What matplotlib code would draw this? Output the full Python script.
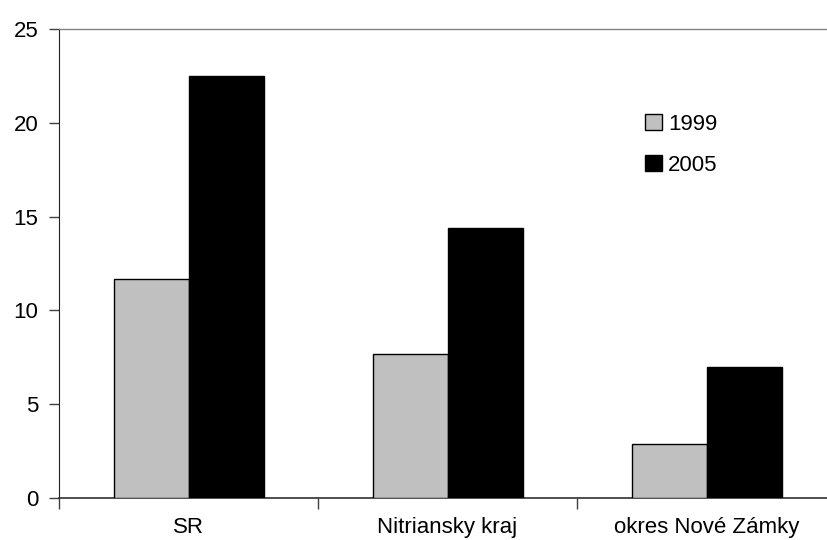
import matplotlib
matplotlib.use("Agg")
import matplotlib.pyplot as plt
import numpy as np

categories = ["SR", "Nitriansky kraj", "okres Nové Zámky"]
series_names = ["1999", "2005"]
values_1999 = [11.7, 7.7, 2.9]
values_2005 = [22.5, 14.4, 7.0]
yticks = [0, 5, 10, 15, 20, 25]

plt.rcParams['font.family'] = ['Liberation Sans', 'DejaVu Sans']

fig = plt.figure(figsize=(8.27, 5.40), dpi=100)
W, H = 827, 540
ax = fig.add_axes([59 / W, (H - 498) / H, 777 / W, 469 / H])

centers = np.arange(len(categories)) + 0.5
bw = 75 / 259
ax.bar(centers - bw / 2, values_1999, width=bw, color="#c0c0c0",
       edgecolor="black", linewidth=1.0, label=series_names[0], zorder=3)
ax.bar(centers + bw / 2, values_2005, width=bw, color="black",
       edgecolor="black", linewidth=1.0, label=series_names[1], zorder=3)

fs = 16
ax.set_xlim(0, len(categories))
ax.set_ylim(0, 25)
ax.set_yticks(yticks)
ax.set_yticklabels([str(t) for t in yticks], fontsize=fs)
ax.set_xticks(np.arange(len(categories) + 1))
ax.set_xticklabels([])
ax.set_xticks(centers, minor=True)
ax.set_xticklabels(categories, minor=True, fontsize=fs)
ax.tick_params(axis="x", which="minor", length=0, pad=14)
ax.tick_params(axis="x", which="major", length=8, width=1, color="#404040", direction="out")
ax.tick_params(axis="y", length=7, width=1, color="#404040", direction="out", pad=8)

ax.spines["right"].set_visible(False)
ax.spines["top"].set_color("#808080")
ax.spines["top"].set_linewidth(1.0)
ax.spines["left"].set_color("#202020")
ax.spines["bottom"].set_color("#303030")
ax.spines["bottom"].set_linewidth(1.2)

leg = ax.legend(loc="upper left", bbox_to_anchor=((645 - 59) / 777, (498 - 114) / 469),
                frameon=False, fontsize=fs, handlelength=0.75, handleheight=0.75,
                handletextpad=0.3, labelspacing=0.9, borderaxespad=0, borderpad=0)

fig.savefig("out.png", dpi=100)
